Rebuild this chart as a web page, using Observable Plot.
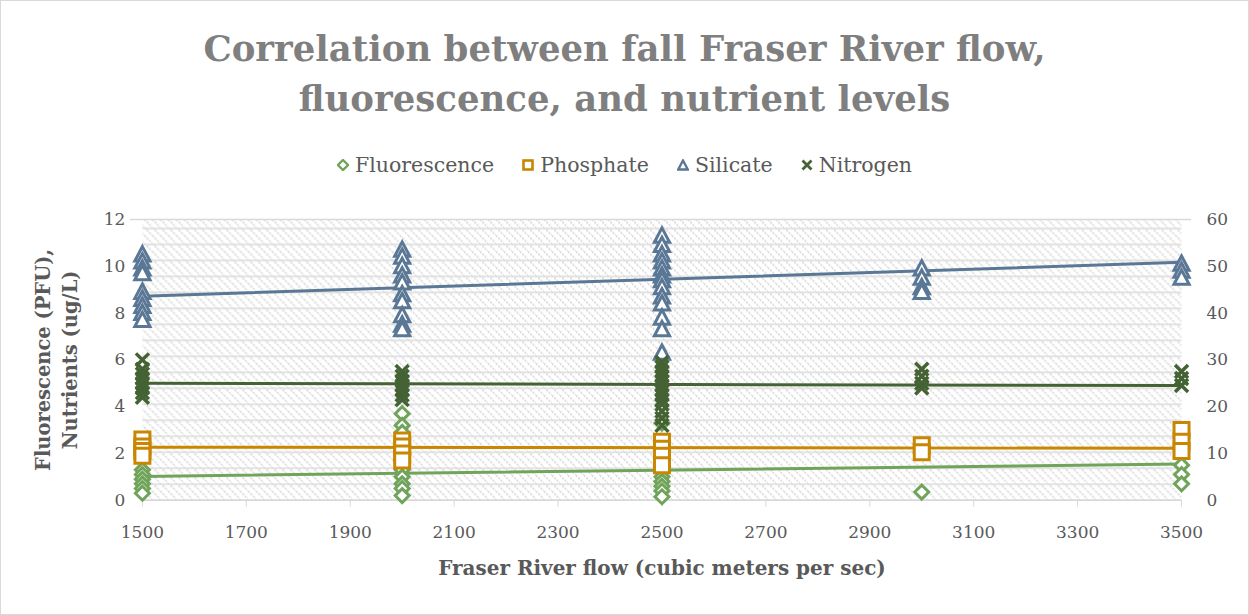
<!DOCTYPE html>
<html>
<head>
<meta charset="utf-8">
<script src="https://cdn.jsdelivr.net/npm/d3@7"></script>
<script src="https://cdn.jsdelivr.net/npm/@observablehq/plot@0.6"></script>
<style>
  body { margin: 0; background: #fff; }
  #wrap { position: relative; width: 1249px; height: 615px; box-sizing: border-box; border: 1px solid #d9d9d9; background: #fff; overflow: hidden; font-family: "DejaVu Serif", serif; }
  #title { position: absolute; top: 23px; left: -1px; width: 1249px; text-align: center; font-weight: bold; font-size: 35.5px; line-height: 50px; color: #7f7f7f; }
  #legend { position: absolute; top: 152px; left: -1px; width: 1249px; display: flex; justify-content: center; gap: 28px; font-size: 20.5px; color: #595959; }
  #legend .item { display: flex; align-items: center; gap: 6px; }
  #chart { position: absolute; top: 194px; left: -1px; }
</style>
</head>
<body>
<svg width="0" height="0" style="position:absolute">
  <defs>
    <pattern id="hatch" width="8" height="16" patternUnits="userSpaceOnUse">
      <rect width="8" height="16" fill="#ffffff"/>
      <line x1="0" y1="0" x2="8" y2="8" stroke="#d6d6d6" stroke-width="1.6" stroke-dasharray="2 1.4"/>
      <line x1="0" y1="8" x2="8" y2="16" stroke="#d6d6d6" stroke-width="1.6" stroke-dasharray="2 1.4"/>
      <line x1="0" y1="1" x2="8" y2="1" stroke="#dcdcdc" stroke-width="1.5"/>
    </pattern>
  </defs>
</svg>
<div id="wrap">
  <div id="title">Correlation between fall Fraser River flow,<br>fluorescence, and nutrient levels</div>
  <div id="legend"></div>
  <div id="chart"></div>
</div>
<script>
// ---------- data ----------
const flows = [1500, 2000, 2500, 3000, 3500];

// primary axis (left)
const fluorescence = [
  [1.3, 1.1, 0.9, 0.7, 0.5, 0.3],
  [3.7, 3.2, 2.9, 1.3, 1.0, 0.7, 0.5, 0.2],
  [3.3, 1.0, 0.8, 0.6, 0.4, 0.15],
  [0.35],
  [1.5, 1.1, 0.7]
];
const phosphate = [
  [2.6, 2.3, 2.1, 1.9],
  [2.55, 2.3, 2.0, 1.7],
  [2.5, 2.2, 1.9, 1.5],
  [2.35, 2.05],
  [3.0, 2.5, 2.1]
];
// secondary axis (right)
const silicate = [
  [52.5, 51, 49.5, 48.5, 44.5, 43, 41.5, 40, 38.5],
  [53.5, 52, 50, 48, 46.5, 44, 42.5, 39.5, 37.5, 36.5],
  [56.5, 54.5, 52.5, 51, 49.5, 48, 47, 45.5, 43.5, 42, 39, 36.5, 31.5],
  [49.5, 47.5, 45.5, 44.5],
  [50.5, 49, 47.5]
];
const nitrogen = [
  [30, 28, 27, 26, 25, 24, 23, 22],
  [27.5, 26.5, 25.5, 24.5, 23.5, 22.5, 21.5],
  [29.5, 28.5, 27.5, 26.5, 25.5, 24.5, 23.5, 22.5, 21.5, 20.5, 19, 17.5, 16],
  [28, 26.5, 25, 24],
  [27.5, 26, 24.5]
];

// linear trendlines (values at first and last flow)
const trendFlows = [1500, 3500];
const fluorescenceTrend = [1.02, 1.55];
const phosphateTrend = [2.27, 2.22];
const silicateTrend = [43.6, 50.85];
const nitrogenTrend = [25.0, 24.5];

const seriesNames = ["Fluorescence", "Phosphate", "Silicate", "Nitrogen"];
const seriesColors = ["#70A45A", "#C98600", "#5A7796", "#456234"];
const secondarySeries = ["Silicate", "Nitrogen"];

const xTicks = [1500, 1700, 1900, 2100, 2300, 2500, 2700, 2900, 3100, 3300, 3500];
const yTicksLeft = [0, 2, 4, 6, 8, 10, 12];
const yTicksRight = [0, 10, 20, 30, 40, 50, 60];

const xLabel = "Fraser River flow (cubic meters per sec)";
const yLabel = "Fluorescence (PFU),\nNutrients (ug/L)";

// ---------- build ----------
const ratio = d3.max(yTicksRight) / d3.max(yTicksLeft);
const seriesValues = [fluorescence, phosphate, silicate, nitrogen];
const seriesTrends = [fluorescenceTrend, phosphateTrend, silicateTrend, nitrogenTrend];

const toLeft = (name, v) => secondarySeries.includes(name) ? v / ratio : v;

const points = [];
seriesNames.forEach((name, si) => {
  seriesValues[si].forEach((vals, fi) => {
    vals.forEach(v => points.push({series: name, flow: flows[fi], value: v, y: toLeft(name, v)}));
  });
});
const trends = [];
seriesNames.forEach((name, si) => {
  trendFlows.forEach((f, i) => trends.push({series: name, flow: f, y: toLeft(name, seriesTrends[si][i])}));
});

const sym = {
  Fluorescence: {draw(c, s) { const r = Math.sqrt(s / Math.PI); c.moveTo(0, -r); c.lineTo(r, 0); c.lineTo(0, r); c.lineTo(-r, 0); c.closePath(); }},
  Phosphate: {draw(c, s) { const r = Math.sqrt(s / Math.PI); c.rect(-r, -r, 2 * r, 2 * r); }},
  Silicate: {draw(c, s) { const r = Math.sqrt(s / Math.PI); c.moveTo(0, -r); c.lineTo(r * 0.95, r * 0.8); c.lineTo(-r * 0.95, r * 0.8); c.closePath(); }},
  Nitrogen: {draw(c, s) { const r = Math.sqrt(s / Math.PI); c.moveTo(-r, -r); c.lineTo(r, r); c.moveTo(r, -r); c.lineTo(-r, r); }}
};
const symR = {Fluorescence: 7, Phosphate: 7.5, Silicate: 8, Nitrogen: 6.5};

const color = name => seriesColors[seriesNames.indexOf(name)];

const marks = [
  Plot.frame({fill: "url(#hatch)", stroke: "none"}),
  Plot.ruleY([d3.max(yTicksLeft)], {stroke: "#d9d9d9", strokeWidth: 1.5, insetLeft: -12, insetRight: -10}),
  Plot.ruleY([0], {stroke: "#d9d9d9", strokeWidth: 1.5}),
  Plot.axisX(xTicks, {tickSize: 7, tickPadding: 19, stroke: "#d9d9d9", fill: "#595959", fontSize: 17, tickFormat: d => String(d), label: null}),
  Plot.axisY(yTicksLeft, {anchor: "left", tickSize: 0, tickPadding: 17, fill: "#595959", fontSize: 17, label: null}),
  Plot.axisY(yTicksLeft, {anchor: "right", tickSize: 0, tickPadding: 25, fill: "#595959", fontSize: 17, tickFormat: d => String(d * ratio), label: null}),
  Plot.line(trends, {x: "flow", y: "y", z: "series", stroke: d => color(d.series), strokeWidth: 3}),
];
seriesNames.forEach(name => {
  marks.push(Plot.dot(points.filter(p => p.series === name), {
    x: "flow", y: "y", r: symR[name], symbol: sym[name],
    stroke: color(name), fill: name === "Nitrogen" ? "none" : "white",
    strokeWidth: name === "Nitrogen" ? 3.5 : 3
  }));
});
marks.push(Plot.text([xLabel], {frameAnchor: "bottom", lineAnchor: "middle", dy: 68, fontSize: 20, fontWeight: "bold", fill: "#595959", text: d => d}));
marks.push(Plot.text([yLabel], {frameAnchor: "left", textAnchor: "middle", lineAnchor: "middle", dx: -88, rotate: -90, fontSize: 19.5, fontWeight: "bold", fill: "#595959", lineHeight: 1.4, text: d => d}));

const chart = Plot.plot({
  width: 1249,
  height: 421,
  marginTop: 24,
  marginBottom: 116,
  marginLeft: 142,
  marginRight: 67,
  x: {domain: [d3.min(xTicks), d3.max(xTicks)]},
  y: {domain: [0, d3.max(yTicksLeft)]},
  style: {fontFamily: "'DejaVu Serif', serif", background: "transparent", overflow: "visible"},
  marks
});
document.getElementById("chart").appendChild(chart);

// legend
const legend = document.getElementById("legend");
const legendPaths = {
  Fluorescence: '<path d="M6,1 L11,6 L6,11 L1,6 Z" fill="white" stroke-width="2.4"/>',
  Phosphate: '<rect x="1.5" y="1.5" width="9" height="9" fill="white" stroke-width="2.6"/>',
  Silicate: '<path d="M6,1.5 L10.8,10.5 L1.2,10.5 Z" fill="white" stroke-width="2.4"/>',
  Nitrogen: '<path d="M1.5,1.5 L10.5,10.5 M10.5,1.5 L1.5,10.5" fill="none" stroke-width="2.8"/>'
};
seriesNames.forEach((name, i) => {
  const item = document.createElement("div");
  item.className = "item";
  item.innerHTML = `<svg width="12" height="12" viewBox="0 0 12 12" stroke="${seriesColors[i]}">${legendPaths[name]}</svg><span>${name}</span>`;
  legend.appendChild(item);
});
</script>
</body>
</html>
